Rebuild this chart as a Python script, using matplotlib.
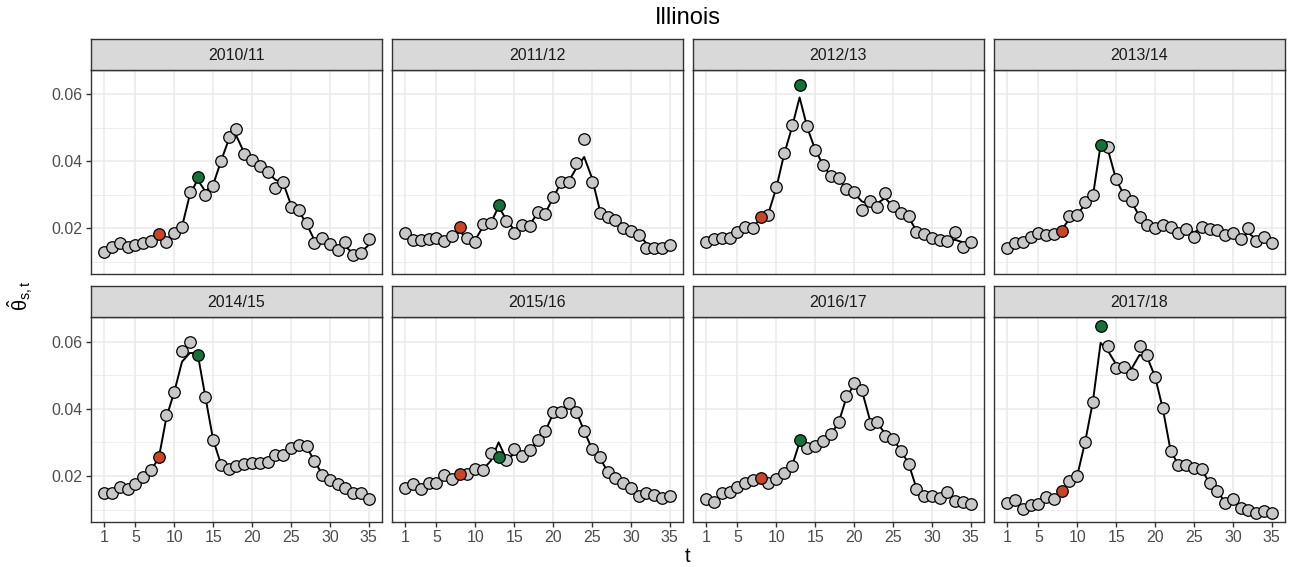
import matplotlib
matplotlib.use("Agg")
import matplotlib.pyplot as plt
import numpy as np

plt.rcParams['font.family'] = ['Liberation Sans', 'DejaVu Sans']
plt.rcParams['mathtext.fontset'] = 'custom'
plt.rcParams['mathtext.rm'] = 'Liberation Sans'
plt.rcParams['mathtext.it'] = 'Liberation Sans:italic'

title = "Illinois"
seasons = ['2010/11', '2011/12', '2012/13', '2013/14',
           '2014/15', '2015/16', '2016/17', '2017/18']
t = list(range(1, 36))
x_breaks = [1, 5, 10, 15, 20, 25, 30, 35]
y_breaks = [0.02, 0.04, 0.06]
y_minor = [0.01, 0.03, 0.05]
red_week = 8
green_week = 13

obs_2010 = [0.0128, 0.0144, 0.0157, 0.0145, 0.0150, 0.0156, 0.0162, 0.0182, 0.0160, 0.0186,
            0.0205, 0.0308, 0.0354, 0.0299, 0.0327, 0.0402, 0.0472, 0.0497, 0.0422, 0.0405,
            0.0385, 0.0368, 0.0319, 0.0337, 0.0263, 0.0254, 0.0215, 0.0157, 0.0172, 0.0153,
            0.0135, 0.0158, 0.0119, 0.0125, 0.0168]
fit_2010 = [0.0128, 0.0144, 0.0155, 0.0147, 0.0150, 0.0156, 0.0164, 0.0178, 0.0165, 0.0186,
            0.0205, 0.0300, 0.0345, 0.0310, 0.0330, 0.0400, 0.0465, 0.0475, 0.0425, 0.0403,
            0.0385, 0.0366, 0.0345, 0.0335, 0.0270, 0.0252, 0.0213, 0.0165, 0.0165, 0.0152,
            0.0140, 0.0145, 0.0125, 0.0128, 0.0150]

obs_2011 = [0.0185, 0.0165, 0.0165, 0.0168, 0.0170, 0.0162, 0.0177, 0.0203, 0.0170, 0.0160,
            0.0212, 0.0215, 0.0268, 0.0220, 0.0187, 0.0210, 0.0208, 0.0247, 0.0242, 0.0294,
            0.0337, 0.0337, 0.0395, 0.0466, 0.0338, 0.0245, 0.0233, 0.0225, 0.0200, 0.0193,
            0.0180, 0.0141, 0.0141, 0.0141, 0.0150]
fit_2011 = [0.0180, 0.0167, 0.0166, 0.0168, 0.0169, 0.0165, 0.0175, 0.0188, 0.0172, 0.0165,
            0.0205, 0.0215, 0.0265, 0.0225, 0.0195, 0.0205, 0.0210, 0.0245, 0.0245, 0.0290,
            0.0335, 0.0340, 0.0380, 0.0413, 0.0350, 0.0255, 0.0235, 0.0225, 0.0202, 0.0192,
            0.0180, 0.0155, 0.0145, 0.0143, 0.0148]

obs_2012 = [0.0158, 0.0168, 0.0170, 0.0170, 0.0188, 0.0205, 0.0200, 0.0233, 0.0240, 0.0323,
            0.0425, 0.0508, 0.0628, 0.0506, 0.0435, 0.0389, 0.0355, 0.0350, 0.0316, 0.0307,
            0.0254, 0.0282, 0.0264, 0.0304, 0.0266, 0.0245, 0.0235, 0.0190, 0.0183, 0.0170,
            0.0165, 0.0162, 0.0188, 0.0143, 0.0159]
fit_2012 = [0.0158, 0.0167, 0.0170, 0.0172, 0.0186, 0.0200, 0.0205, 0.0228, 0.0245, 0.0320,
            0.0420, 0.0500, 0.0591, 0.0500, 0.0435, 0.0390, 0.0357, 0.0348, 0.0318, 0.0305,
            0.0280, 0.0272, 0.0275, 0.0290, 0.0265, 0.0245, 0.0233, 0.0193, 0.0182, 0.0172,
            0.0166, 0.0163, 0.0165, 0.0158, 0.0158]

obs_2013 = [0.0141, 0.0156, 0.0160, 0.0173, 0.0185, 0.0180, 0.0182, 0.0192, 0.0237, 0.0239,
            0.0278, 0.0300, 0.0450, 0.0444, 0.0346, 0.0299, 0.0281, 0.0232, 0.0210, 0.0202,
            0.0210, 0.0205, 0.0185, 0.0199, 0.0175, 0.0205, 0.0197, 0.0195, 0.0180, 0.0187,
            0.0168, 0.0200, 0.0163, 0.0175, 0.0156]
fit_2013 = [0.0142, 0.0155, 0.0161, 0.0172, 0.0182, 0.0182, 0.0184, 0.0195, 0.0228, 0.0240,
            0.0272, 0.0295, 0.0448, 0.0430, 0.0345, 0.0300, 0.0278, 0.0235, 0.0212, 0.0205,
            0.0207, 0.0202, 0.0192, 0.0195, 0.0188, 0.0198, 0.0196, 0.0192, 0.0183, 0.0183,
            0.0175, 0.0185, 0.0168, 0.0170, 0.0158]

obs_2014 = [0.0148, 0.0149, 0.0167, 0.0162, 0.0177, 0.0197, 0.0219, 0.0256, 0.0381, 0.0450,
            0.0571, 0.0599, 0.0560, 0.0434, 0.0308, 0.0233, 0.0222, 0.0230, 0.0237, 0.0238,
            0.0238, 0.0243, 0.0262, 0.0262, 0.0282, 0.0292, 0.0288, 0.0246, 0.0203, 0.0187,
            0.0177, 0.0164, 0.0150, 0.0150, 0.0130]
fit_2014 = [0.0148, 0.0150, 0.0164, 0.0163, 0.0177, 0.0196, 0.0218, 0.0252, 0.0375, 0.0450,
            0.0540, 0.0566, 0.0565, 0.0435, 0.0308, 0.0235, 0.0224, 0.0230, 0.0236, 0.0237,
            0.0239, 0.0244, 0.0258, 0.0264, 0.0280, 0.0290, 0.0286, 0.0246, 0.0205, 0.0187,
            0.0176, 0.0164, 0.0152, 0.0148, 0.0132]

obs_2015 = [0.0165, 0.0177, 0.0162, 0.0178, 0.0180, 0.0203, 0.0190, 0.0205, 0.0205, 0.0220,
            0.0218, 0.0267, 0.0256, 0.0247, 0.0281, 0.0258, 0.0277, 0.0306, 0.0334, 0.0389,
            0.0389, 0.0418, 0.0391, 0.0334, 0.0279, 0.0256, 0.0212, 0.0193, 0.0180, 0.0163,
            0.0141, 0.0150, 0.0143, 0.0133, 0.0139]
fit_2015 = [0.0165, 0.0175, 0.0165, 0.0176, 0.0182, 0.0198, 0.0193, 0.0203, 0.0207, 0.0217,
            0.0220, 0.0245, 0.0300, 0.0250, 0.0265, 0.0262, 0.0275, 0.0305, 0.0333, 0.0385,
            0.0392, 0.0405, 0.0390, 0.0334, 0.0280, 0.0255, 0.0213, 0.0194, 0.0180, 0.0163,
            0.0145, 0.0148, 0.0143, 0.0135, 0.0139]

obs_2016 = [0.0131, 0.0123, 0.0149, 0.0153, 0.0167, 0.0178, 0.0187, 0.0193, 0.0178, 0.0190,
            0.0210, 0.0230, 0.0308, 0.0284, 0.0289, 0.0304, 0.0324, 0.0360, 0.0438, 0.0477,
            0.0457, 0.0354, 0.0362, 0.0319, 0.0311, 0.0275, 0.0237, 0.0162, 0.0141, 0.0141,
            0.0133, 0.0153, 0.0126, 0.0123, 0.0116]
fit_2016 = [0.0131, 0.0126, 0.0147, 0.0154, 0.0166, 0.0177, 0.0186, 0.0190, 0.0182, 0.0190,
            0.0208, 0.0228, 0.0300, 0.0286, 0.0290, 0.0303, 0.0323, 0.0358, 0.0432, 0.0472,
            0.0455, 0.0370, 0.0358, 0.0325, 0.0310, 0.0276, 0.0237, 0.0165, 0.0143, 0.0141,
            0.0136, 0.0145, 0.0128, 0.0123, 0.0117]

obs_2017 = [0.0119, 0.0129, 0.0101, 0.0114, 0.0117, 0.0137, 0.0131, 0.0156, 0.0186, 0.0201,
            0.0302, 0.0421, 0.0645, 0.0587, 0.0521, 0.0525, 0.0504, 0.0587, 0.0559, 0.0495,
            0.0401, 0.0274, 0.0232, 0.0233, 0.0223, 0.0220, 0.0178, 0.0155, 0.0119, 0.0131,
            0.0104, 0.0099, 0.0091, 0.0096, 0.0091]
fit_2017 = [0.0120, 0.0126, 0.0105, 0.0113, 0.0118, 0.0134, 0.0133, 0.0153, 0.0184, 0.0201,
            0.0300, 0.0420, 0.0596, 0.0570, 0.0532, 0.0524, 0.0520, 0.0560, 0.0553, 0.0495,
            0.0400, 0.0275, 0.0233, 0.0232, 0.0224, 0.0219, 0.0179, 0.0154, 0.0122, 0.0128,
            0.0106, 0.0099, 0.0093, 0.0095, 0.0092]

obs_all = [obs_2010, obs_2011, obs_2012, obs_2013, obs_2014, obs_2015, obs_2016, obs_2017]
fit_all = [fit_2010, fit_2011, fit_2012, fit_2013, fit_2014, fit_2015, fit_2016, fit_2017]

W, H = 1292, 567
fig = plt.figure(figsize=(W / 100, H / 100), dpi=100)
fig.patch.set_facecolor('white')

lefts = [91, 392, 693, 994]
pw = 291
rows = [(70, 274), (317, 522)]
strip_h = 31

GRID = '#EBEBEB'
BORDER = '#333333'
TXT = '#4D4D4D'
MS = 8.3

for i, season in enumerate(seasons):
    r, c = divmod(i, 4)
    top, bot = rows[r]
    ax = fig.add_axes([lefts[c] / W, (H - bot) / H, pw / W, (bot - top) / H])
    ax.set_xlim(-0.7, 36.7)
    ax.set_ylim(0.0063, 0.0673)
    ax.set_xticks(x_breaks)
    ax.set_yticks(y_breaks)
    ax.set_yticks(y_minor, minor=True)
    ax.set_yticklabels(['0.02', '0.04', '0.06'])
    ax.set_axisbelow(True)
    ax.grid(which='major', color=GRID, lw=1.2)
    ax.grid(which='minor', axis='y', color=GRID, lw=0.6)
    ax.tick_params(which='minor', length=0)
    ax.tick_params(which='major', length=3.5, width=1, color=BORDER,
                   labelsize=11.5, labelcolor=TXT, pad=2.5)
    for s in ax.spines.values():
        s.set_color(BORDER)
        s.set_linewidth(1.0)
    if c != 0:
        ax.tick_params(axis='y', left=False, labelleft=False)
    if r == 0:
        ax.tick_params(axis='x', bottom=False, labelbottom=False)

    obs = obs_all[i]
    fit = fit_all[i]
    ax.plot(t, fit, color='black', lw=1.4, zorder=2)
    grey_t = [tt for tt in t if tt not in (red_week, green_week)]
    grey_v = [v for tt, v in zip(t, obs) if tt not in (red_week, green_week)]
    ax.plot(grey_t, grey_v, 'o', ms=MS, mfc='#C8C8C8', mec='black', mew=0.9, zorder=3)
    ax.plot([red_week], [obs[red_week - 1]], 'o', ms=MS, mfc='#C4472A', mec='black',
            mew=0.9, zorder=4)
    ax.plot([green_week], [obs[green_week - 1]], 'o', ms=MS, mfc='#17703C', mec='black',
            mew=0.9, zorder=4)

    sax = fig.add_axes([lefts[c] / W, (H - top) / H, pw / W, strip_h / H])
    sax.set_facecolor('#D9D9D9')
    sax.set_xticks([])
    sax.set_yticks([])
    for s in sax.spines.values():
        s.set_color(BORDER)
        s.set_linewidth(1.0)
    sax.text(0.5, 0.47, season, ha='center', va='center', fontsize=11.5,
             color='#1A1A1A', transform=sax.transAxes)

fig.text(688 / W, 1 - 18 / H, title, ha='center', va='center', fontsize=17, color='black')
fig.text(688 / W, 1 - 557 / H, 't', ha='center', va='center', fontsize=14.5, color='black')
fig.text(20 / W, 1 - 296 / H, r'$\hat{\mathrm{θ}}_{\mathrm{s,t}}$', ha='center', va='center',
         rotation=90, fontsize=14.5, color='black')

fig.savefig('out.png', dpi=100)
